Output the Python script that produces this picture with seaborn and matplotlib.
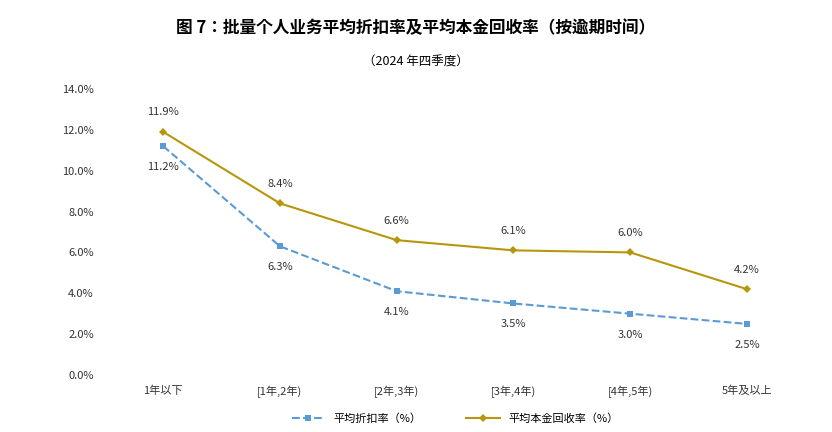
import matplotlib
matplotlib.use("Agg")
import matplotlib.pyplot as plt
from matplotlib import font_manager
import seaborn as sns
import pandas as pd

categories = ["1年以下", "[1年,2年)", "[2年,3年)", "[3年,4年)", "[4年,5年)", "5年及以上"]
discount = [11.2, 6.3, 4.1, 3.5, 3.0, 2.5]
recovery = [11.9, 8.4, 6.6, 6.1, 6.0, 4.2]
yticks = [0, 2, 4, 6, 8, 10, 12, 14]

names = {f.name for f in font_manager.fontManager.ttflist}
cjk = [n for n in ["Noto Sans CJK SC", "Noto Sans CJK JP", "Noto Sans CJK TC", "Noto Sans CJK KR"] if n in names]
plt.rcParams["font.family"] = cjk + ["DejaVu Sans"]
fig = plt.figure(figsize=(8.32, 4.32), dpi=100)
ax = fig.add_axes([0.126, 0.132, 0.842, 0.662])
x = list(range(len(categories)))
df = pd.DataFrame({"x": x, "d": discount, "r": recovery})
blue, gold = "#5B9BD5", "#B8960C"
sns.lineplot(data=df, x="x", y="d", ax=ax, color=blue, linestyle="--", marker="s",
             markersize=5, markeredgewidth=0, linewidth=1.5, label="平均折扣率（%）")
sns.lineplot(data=df, x="x", y="r", ax=ax, color=gold, marker="D",
             markersize=4, markeredgewidth=0, linewidth=1.5, label="平均本金回收率（%）")
for i in x:
    ax.annotate(f"{discount[i]:.1f}%", (i, discount[i]), xytext=(0, -15), textcoords="offset points",
                ha="center", va="center", fontsize=8, color="#333333")
    ax.annotate(f"{recovery[i]:.1f}%", (i, recovery[i]), xytext=(0, 14), textcoords="offset points",
                ha="center", va="center", fontsize=8, color="#333333")
ax.set_xlim(-0.5, 5.5)
ax.set_ylim(0, 14)
ax.set_yticks(yticks)
ax.set_yticklabels([f"{v:.1f}%" for v in yticks], fontsize=8, color="#333333")
ax.set_xticks(x)
ax.set_xticklabels(categories, fontsize=8, color="#333333")
ax.set_xlabel(""); ax.set_ylabel("")
for s in ["top", "right", "left", "bottom"]:
    ax.spines[s].set_visible(False)
ax.tick_params(length=0, pad=8)
ax.legend(loc="upper center", bbox_to_anchor=(0.5, -0.1), ncol=2, frameon=False, fontsize=8,
          columnspacing=4, handlelength=3)
fig.text(0.5, 0.935, "图 7：批量个人业务平均折扣率及平均本金回收率（按逾期时间）", ha="center",
         va="center", fontsize=12, fontweight="bold")
fig.text(0.5, 0.857, "（2024 年四季度）", ha="center", va="center", fontsize=9)
fig.savefig("out.png", dpi=100)
